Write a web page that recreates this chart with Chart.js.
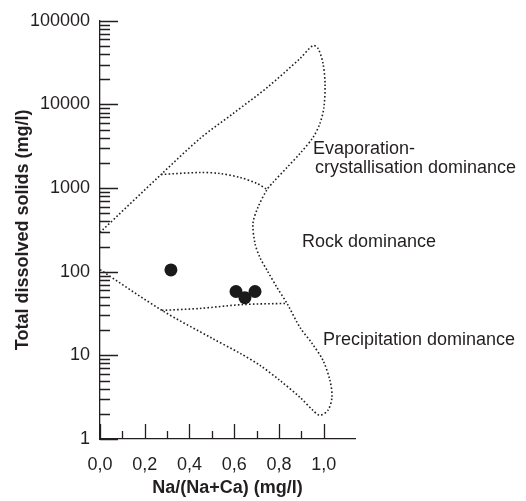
<!DOCTYPE html>
<html>
<head>
<meta charset="utf-8">
<script src="https://cdn.jsdelivr.net/npm/chart.js@4"></script>
<style>
  html, body { margin: 0; padding: 0; background: #fff; }
  canvas { display: block; }
</style>
</head>
<body>
<canvas id="chart" width="526" height="501"></canvas>
<script>
// samples
const sampleNa = [0.317, 0.608, 0.648, 0.693];
const sampleTds = [105, 58, 49, 58];

// Gibbs boomerang outline (Na/(Na+Ca), TDS)
const outerNa = [0.000, 0.273, 0.447, 0.595, 0.747, 0.894, 0.952, 0.975, 0.997, 1.006,
  1.001, 0.983, 0.952, 0.894, 0.836, 0.773, 0.747, 0.706, 0.684, 0.693,
  0.715, 0.747, 0.791, 0.836, 0.894, 0.948, 0.997, 1.028, 1.037, 1.019,
  0.983, 0.952, 0.894, 0.805, 0.715, 0.626, 0.501, 0.277, 0.000];
const outerTds = [295, 1454, 3914, 7787, 15920, 35350, 50540, 46550, 30810, 17770,
  9185, 5912, 4023, 2591, 1763, 1167, 962, 587, 378, 218,
  148, 104, 65, 41.8, 21.6, 13.9, 8.7, 5.0, 3.15, 2.2,
  1.92, 2.2, 3.15, 5.0, 7.6, 10.6, 16, 34.5, 106];

// evaporation / rock boundary
const upperNa = [0.273, 0.447, 0.536, 0.626, 0.702, 0.747];
const upperTds = [1454, 1536, 1494, 1338, 1135, 962];

// rock / precipitation boundary
const lowerNa = [0.277, 0.447, 0.639, 0.836];
const lowerTds = [34.5, 36.4, 40.5, 41.8];

// region names
const regionText = ["Evaporation-", "crystallisation dominance", "Rock dominance", "Precipitation dominance"];
const regionNa = [0.952, 0.961, 0.903, 0.997];
const regionTds = [2970, 1760, 224, 15.1];

// axis ticks
const xMajorTicks = [0, 0.2, 0.4, 0.6, 0.8, 1.0];
const xMinorTicks = [0.1, 0.3, 0.5, 0.7, 0.9];
const yMajorTicks = [1, 10, 100, 1000, 10000, 100000];
const yMinorSteps = [2, 3, 4, 5, 6, 7, 8, 9];
const yMinorTicks = yMajorTicks.slice(0, -1).flatMap(d => yMinorSteps.map(s => s * d));

const ink = "#231f20";
const font = '"Liberation Sans", Arial, sans-serif';

const toPoints = (xs, ys) => xs.map((v, i) => ({ x: v, y: ys[i] }));

const dotted = {
  showLine: true,
  pointRadius: 0,
  borderColor: ink,
  borderWidth: 1.6,
  borderDash: [1.6, 2.2],
  fill: false,
};

// inward tick marks and region names
const tickMarks = {
  id: "tickMarks",
  afterDraw(chart) {
    const { ctx, chartArea: a, scales: { x, y } } = chart;
    ctx.save();
    ctx.strokeStyle = ink;
    ctx.lineWidth = 1.3;
    ctx.beginPath();
    yMajorTicks.forEach(v => {
      const py = Math.round(y.getPixelForValue(v)) + 0.5;
      ctx.moveTo(a.left, py); ctx.lineTo(a.left + 18, py);
    });
    yMinorTicks.forEach(v => {
      const py = Math.round(y.getPixelForValue(v)) + 0.5;
      ctx.moveTo(a.left, py); ctx.lineTo(a.left + 10, py);
    });
    xMajorTicks.forEach(v => {
      const px = Math.round(x.getPixelForValue(v)) + 0.5;
      ctx.moveTo(px, a.bottom); ctx.lineTo(px, a.bottom - 15);
    });
    xMinorTicks.forEach(v => {
      const px = Math.round(x.getPixelForValue(v)) + 0.5;
      ctx.moveTo(px, a.bottom); ctx.lineTo(px, a.bottom - 8);
    });
    ctx.stroke();

    ctx.fillStyle = ink;
    ctx.font = "18px " + font;
    ctx.textAlign = "left";
    ctx.textBaseline = "middle";
    regionText.forEach((t, i) => {
      ctx.fillText(t, x.getPixelForValue(regionNa[i]), y.getPixelForValue(regionTds[i]));
    });
    ctx.restore();
  },
};

new Chart(document.getElementById("chart"), {
  type: "scatter",
  data: {
    datasets: [
      {
        data: toPoints(sampleNa, sampleTds),
        pointRadius: 6.5,
        pointHoverRadius: 6.5,
        backgroundColor: "#1a1a1a",
        borderWidth: 0,
      },
      { ...dotted, data: toPoints(outerNa, outerTds), tension: 0.3 },
      { ...dotted, data: toPoints(upperNa, upperTds), tension: 0.3 },
      { ...dotted, data: toPoints(lowerNa, lowerTds), tension: 0.3 },
    ],
  },
  options: {
    responsive: false,
    animation: false,
    layout: { padding: { top: 20, right: 171, bottom: 0, left: 0 } },
    plugins: {
      legend: { display: false },
      tooltip: { enabled: false },
    },
    scales: {
      x: {
        type: "linear",
        min: 0,
        max: 1.14,
        afterBuildTicks: s => { s.ticks = xMajorTicks.map(v => ({ value: v })); },
        afterFit: s => { s.height = 62; },
        grid: { display: false, drawTicks: false },
        border: { display: true, color: ink, width: 1.3 },
        ticks: {
          padding: 15,
          color: ink,
          font: { family: font, size: 18 },
          callback: v => v.toFixed(1).replace(".", ","),
        },
        title: {
          display: true,
          text: "Na/(Na+Ca) (mg/l)",
          color: ink,
          font: { family: font, size: 18, weight: "bold" },
          padding: { top: 0, bottom: 2 },
        },
      },
      y: {
        type: "logarithmic",
        min: 1,
        max: 100000,
        afterBuildTicks: s => { s.ticks = yMajorTicks.map(v => ({ value: v })); },
        afterFit: s => { s.width = 100; },
        grid: { display: false, drawTicks: false },
        border: { display: true, color: ink, width: 1.3 },
        ticks: {
          padding: 10,
          color: ink,
          font: { family: font, size: 18 },
          callback: v => String(v),
        },
        title: {
          display: true,
          text: "Total dissolved solids (mg/l)",
          color: ink,
          font: { family: font, size: 18, weight: "bold" },
          padding: { top: 12, bottom: 0 },
        },
      },
    },
  },
  plugins: [tickMarks],
});
</script>
</body>
</html>
